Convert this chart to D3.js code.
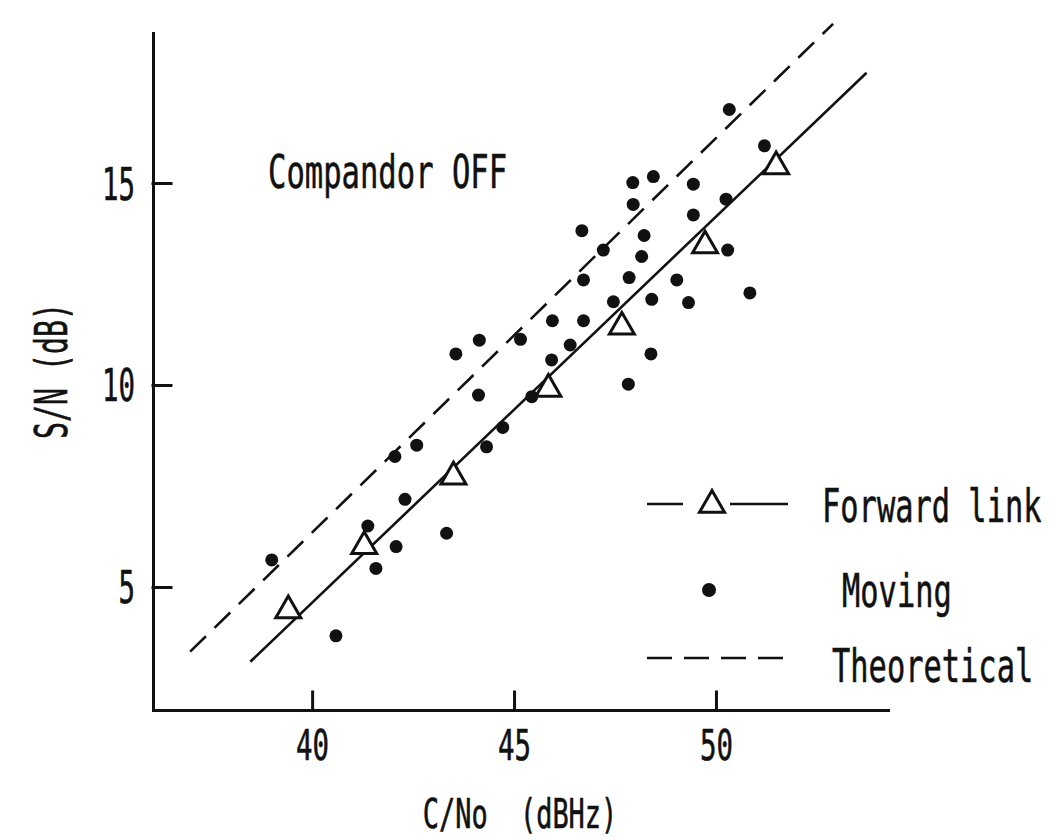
<!DOCTYPE html>
<html lang="en">
<head>
<meta charset="UTF-8">
<title>Compandor OFF</title>
<script src="https://d3js.org/d3.v7.min.js"></script>
<style>
  body { margin: 0; background: #fff; }
  text { font-family: "DejaVu Sans Mono", monospace; fill: #111; stroke: #111; stroke-width: 0.6; white-space: pre; }
</style>
</head>
<body>
<svg id="chart" width="1061" height="840"></svg>
<script>
// tick labels
const xTicks = [40, 45, 50]
const yTicks = [5, 10, 15]

// forward link (triangles): C/No, S/N
const fwdX = [39.41, 41.29, 43.50, 45.85, 47.67, 49.73, 51.49]
const fwdY = [4.42, 6.01, 7.73, 9.90, 11.44, 13.45, 15.41]

// fitted forward link line, end points
const fitX = [38.47, 53.73]
const fitY = [3.15, 17.73]

// theoretical line, end points
const theoX = [36.98, 52.90]
const theoY = [3.40, 18.94]

// moving measurements
const movX = [50.33, 51.20, 47.94, 48.45, 49.44, 47.95, 50.25, 49.44, 50.29, 46.68,
              48.22, 47.21, 48.16, 46.72, 47.85, 49.03, 50.84, 47.46, 48.41, 49.32,
              45.95, 46.72, 45.16, 46.39, 45.93, 48.39, 47.83, 45.44, 44.72, 44.14,
              43.56, 44.12, 42.59, 42.05, 44.32, 42.30, 41.38, 43.33, 42.08, 39.00,
              41.58, 40.59]
const movY = [16.82, 15.92, 15.01, 15.16, 14.97, 14.47, 14.60, 14.21, 13.34, 13.82,
              13.70, 13.34, 13.18, 12.60, 12.66, 12.60, 12.28, 12.06, 12.12, 12.04,
              11.59, 11.59, 11.13, 10.99, 10.62, 10.77, 10.02, 9.71, 8.95, 11.11,
              10.77, 9.75, 8.51, 8.23, 8.47, 7.17, 6.51, 6.33, 6.00, 5.67,
              5.46, 3.79]

const legendNames = ["Forward link", "Moving", "Theoretical"]

const svg = d3.select("#chart")

const x = d3.scaleLinear().domain([36.06, 54.26]).range([153, 888])
const y = d3.scaleLinear().domain([1.955, 18.713]).range([710, 33])

// narrow plotter-like text: squeeze the mono font horizontally (advance 0.602em)
function squeeze(size, adv) { return adv / (0.602 * size) }
function label(sel, str, size, adv, px, py, rot) {
  sel.text(str)
     .attr("font-size", size)
     .attr("transform", `translate(${px},${py})` + (rot ? ` rotate(${rot})` : "") +
                        ` scale(${squeeze(size, adv)},1)`)
  return sel
}

// axes
const xAxis = svg.append("g")
  .attr("transform", "translate(0,710)")
  .call(d3.axisBottom(x).tickValues(xTicks).tickSizeInner(-18).tickSizeOuter(0))
const yAxis = svg.append("g")
  .attr("transform", "translate(153,0)")
  .call(d3.axisLeft(y).tickValues(yTicks).tickSizeInner(-18).tickSizeOuter(0))

svg.selectAll(".domain, .tick line")
  .attr("stroke", "#111")
  .attr("stroke-width", 3)
  .attr("stroke-linecap", "square")

xAxis.selectAll(".tick text").each(function(d) {
  label(d3.select(this), String(d), 42, 16.5, 0, 50)
    .attr("x", null).attr("y", null).attr("dy", null).attr("text-anchor", "middle")
})
yAxis.selectAll(".tick text").each(function(d) {
  label(d3.select(this), String(d), 44, 16.5, -18, 16)
    .attr("x", null).attr("y", null).attr("dy", null).attr("text-anchor", "end")
})

// axis titles
label(svg.append("text"), "C/No  (dBHz)", 41, 16.2, 520, 828).attr("text-anchor", "middle")
label(svg.append("text"), "S/N (dB)", 44, 17, 67, 371, -90).attr("text-anchor", "middle")

// annotation
label(svg.append("text"), "Compandor OFF", 47, 18.4, 268, 188)

const line = d3.line().x(d => x(d[0])).y(d => y(d[1]))

// theoretical (dashed)
svg.append("path")
  .datum(d3.zip(theoX, theoY))
  .attr("d", line)
  .attr("fill", "none")
  .attr("stroke", "#111")
  .attr("stroke-width", 2.6)
  .attr("stroke-dasharray", "22,12")

// forward link fit (solid)
svg.append("path")
  .datum(d3.zip(fitX, fitY))
  .attr("d", line)
  .attr("fill", "none")
  .attr("stroke", "#111")
  .attr("stroke-width", 2.6)

// moving dots
svg.append("g").selectAll("circle")
  .data(d3.zip(movX, movY))
  .join("circle")
  .attr("cx", d => x(d[0]))
  .attr("cy", d => y(d[1]))
  .attr("r", 6.5)
  .attr("fill", "#111")

// forward link triangles
const tri = d3.symbol().type(d3.symbolTriangle).size(270)
svg.append("g").selectAll("path")
  .data(d3.zip(fwdX, fwdY))
  .join("path")
  .attr("d", tri)
  .attr("transform", d => `translate(${x(d[0])},${y(d[1])})`)
  .attr("fill", "#fff")
  .attr("stroke", "#111")
  .attr("stroke-width", 3)

// legend
const lg = svg.append("g")
lg.append("line").attr("x1", 647).attr("x2", 683).attr("y1", 504).attr("y2", 504)
  .attr("stroke", "#111").attr("stroke-width", 2.6)
lg.append("line").attr("x1", 730).attr("x2", 788).attr("y1", 504).attr("y2", 504)
  .attr("stroke", "#111").attr("stroke-width", 2.6)
lg.append("path").attr("d", tri).attr("transform", "translate(712,505)")
  .attr("fill", "#fff").attr("stroke", "#111").attr("stroke-width", 3)
lg.append("circle").attr("cx", 709).attr("cy", 590).attr("r", 7).attr("fill", "#111")
lg.append("line").attr("x1", 647).attr("x2", 785).attr("y1", 658).attr("y2", 658)
  .attr("stroke", "#111").attr("stroke-width", 2.6).attr("stroke-dasharray", "25,12")

const legendPos = [[822, 522], [842, 607], [832, 682]]
legendNames.forEach((n, i) => {
  label(lg.append("text"), n, 47, 18.3, legendPos[i][0], legendPos[i][1])
})
</script>
</body>
</html>
